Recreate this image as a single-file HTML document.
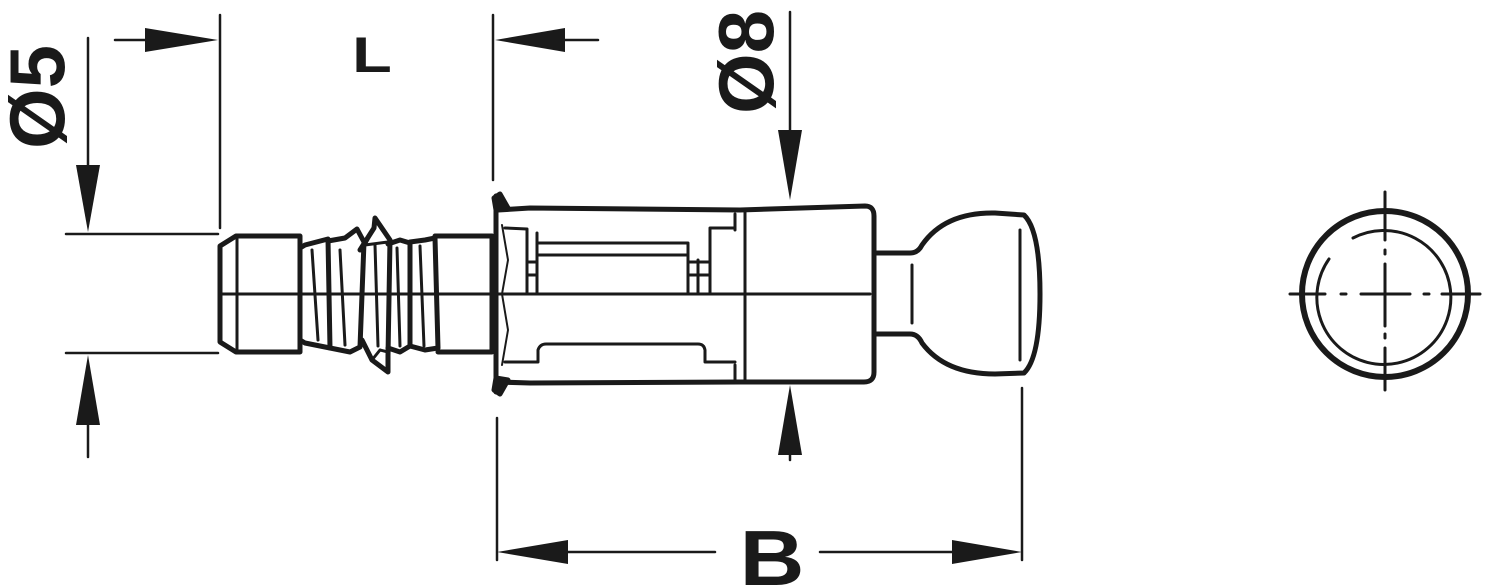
<!DOCTYPE html>
<html><head><meta charset="utf-8"><style>html,body{margin:0;padding:0;background:#fff}svg{display:block}</style></head>
<body>
<svg width="1488" height="587" viewBox="0 0 1488 587" xmlns="http://www.w3.org/2000/svg">
<g fill="none" stroke="#1a1a1a" stroke-linejoin="round" stroke-linecap="round">
<g stroke-width="2.5">
<line x1="88" y1="38" x2="88" y2="200"/>
<line x1="88" y1="400" x2="88" y2="457"/>
<line x1="66" y1="234" x2="218" y2="234"/>
<line x1="66" y1="353" x2="218" y2="353"/>
<line x1="220" y1="15" x2="220" y2="228"/>
<line x1="115" y1="40" x2="160" y2="40"/>
<line x1="493" y1="15" x2="493" y2="180"/>
<line x1="550" y1="40" x2="598" y2="40"/>
<line x1="790" y1="12" x2="790" y2="150"/>
<line x1="790" y1="420" x2="790" y2="460"/>
<line x1="497" y1="418" x2="497" y2="560"/>
<line x1="1022" y1="388" x2="1022" y2="560"/>
<line x1="520" y1="552" x2="715" y2="552"/>
<line x1="820" y1="552" x2="1000" y2="552"/>
</g>
<line x1="220" y1="294" x2="870" y2="294" stroke-width="3"/>
<g stroke-width="5">
<path d="M220 246 L236 236 L300 236 L300 352 L236 352 L220 342 Z"/>
<line x1="237" y1="238" x2="237" y2="350" stroke-width="3"/>
<path d="M300 248 L305 245 L328 239 L330 348 L305 343 L300 340"/>
<path d="M328 241 L345 238 L357 229 L364 242 L360 347 L350 352 L330 348"/>
<path d="M360 250 L374 228 L375 218 L390 240 L388 356 L388 372 L372 360 L362 340"/>
<path d="M388 244 L400 240 L410 243 L410 346 L400 352 L388 348"/>
<path d="M410 242 L425 240 L435 238 L438 348 L425 350 L410 346"/>
<path d="M435 236 L492 236 L492 352 L438 352"/>
<line x1="312" y1="250" x2="318" y2="340" stroke-width="3"/>
<line x1="340" y1="250" x2="345" y2="345" stroke-width="3"/>
<line x1="375" y1="245" x2="378" y2="346" stroke-width="3"/>
<line x1="397" y1="248" x2="400" y2="346" stroke-width="3"/>
<line x1="420" y1="246" x2="424" y2="346" stroke-width="3"/>
<path d="M375 226 L365 245 L388 242" stroke-width="3"/>
<path d="M372 360 L380 350 L388 352" stroke-width="3"/>
</g>
<g stroke-width="5">
<path d="M494 198 L500 194 L508 208 L496 210 Z" fill="#1a1a1a"/>
<path d="M494 390 L500 394 L508 380 L496 378 Z" fill="#1a1a1a"/>
<line x1="496" y1="196" x2="496" y2="392"/>
<path d="M498 210 L530 208 L740 210 L865 206 Q874 206 874 216 L874 372 Q874 382 864 382 L740 382 L530 383 L498 382"/>
<line x1="735" y1="214" x2="735" y2="230" stroke-width="3"/>
<line x1="735" y1="365" x2="735" y2="382" stroke-width="3"/>
<line x1="745" y1="212" x2="745" y2="380" stroke-width="3"/>
</g>
<g stroke-width="3">
<path d="M505 228 L527 229 L527 294"/>
<path d="M527 230 L527 294 M537 233 L537 294 M537 243 L688 243 L688 294 M537 255 L688 255 M698 260 L698 294 M688 262 L710 262 M688 275 L710 275 M527 262 L537 262 M527 275 L537 275"/>
<path d="M710 294 L710 228 L735 228"/>
<path d="M505 362 L538 362 L538 350 Q540 344 546 344 L698 344 Q704 344 705 350 L705 362 L735 362"/>
<path d="M502 225 L508 260 L502 294 L508 330 L502 365" stroke-width="2"/>
</g>
<g stroke-width="5">
<path d="M874 253 L910 253 Q918 253 922 245 Q945 212 995 213 L1024 215 Q1040 230 1040 294 Q1040 358 1024 373 L995 374 Q945 374 922 343 Q918 334 910 334 L874 334"/>
</g>
<line x1="1020" y1="230" x2="1020" y2="360" stroke-width="3"/>
<line x1="912" y1="265" x2="912" y2="323" stroke-width="3"/>
<circle cx="1385" cy="294" r="83" stroke-width="6"/>
<path d="M1353 238 A67 67 0 1 1 1329 259" stroke-width="3"/>
<g stroke-width="3">
<line x1="1385" y1="192" x2="1385" y2="240"/>
<line x1="1385" y1="250" x2="1385" y2="254"/>
<line x1="1385" y1="264" x2="1385" y2="326"/>
<line x1="1385" y1="334" x2="1385" y2="338"/>
<line x1="1385" y1="348" x2="1385" y2="390"/>
<line x1="1290" y1="294" x2="1325" y2="294"/>
<line x1="1341" y1="294" x2="1346" y2="294"/>
<line x1="1361" y1="294" x2="1410" y2="294"/>
<line x1="1424" y1="294" x2="1429" y2="294"/>
<line x1="1442" y1="294" x2="1480" y2="294"/>
</g>
</g>
<g fill="#1a1a1a">
<polygon points="76,165 100,165 88,232"/>
<polygon points="76,425 100,425 88,355"/>
<polygon points="145,28 145,52 218,40"/>
<polygon points="565,28 565,52 495,40"/>
<polygon points="778,130 802,130 790,200"/>
<polygon points="778,455 802,455 790,385"/>
<polygon points="568,540 568,564 497,552"/>
<polygon points="952,540 952,564 1022,552"/>
</g>
<g font-family="Liberation Sans, sans-serif" font-weight="bold" fill="#1a1a1a">
<text transform="translate(372,72) scale(1.3,1)" font-size="50" text-anchor="middle">L</text>
<text transform="translate(772,585) scale(1.15,1)" font-size="78" text-anchor="middle">B</text>
<text transform="translate(64,97) rotate(-90)" font-size="78" text-anchor="middle">Ø5</text>
<text transform="translate(773,62) rotate(-90)" font-size="78" text-anchor="middle">Ø8</text>
</g>
</svg>
</body></html>
